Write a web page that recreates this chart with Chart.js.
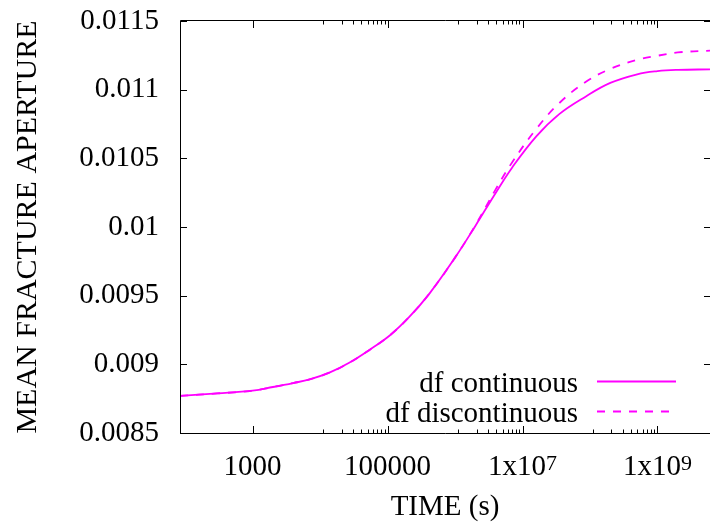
<!DOCTYPE html>
<html>
<head>
<meta charset="utf-8">
<script src="https://cdn.jsdelivr.net/npm/chart.js@4.4.1/dist/chart.umd.min.js"></script>
<style>
  html, body { margin: 0; padding: 0; background: #fff; }
</style>
</head>
<body>
<canvas id="chart" width="710" height="526"></canvas>
<script>
// time in seconds (log axis)
const timeS = [84, 300, 1000, 2000, 4000, 7000, 1.4e4, 2.7e4, 5.4e4, 1.1e5, 2.1e5, 4.2e5, 1e6, 2e6, 4e6, 7e6,
  1.6e7, 3.5e7, 8.7e7, 2e8, 5e8, 1e9, 2e9, 6e9];
const dfContinuous = [0.00877, 0.008788, 0.008808, 0.008835, 0.008864, 0.00889, 0.008941, 0.009011, 0.009105, 0.009214,
  0.009345, 0.009517, 0.009777, 0.010008, 0.010248, 0.010432, 0.01066, 0.010822, 0.010951, 0.011049, 0.011112,
  0.011135, 0.011144, 0.011148];
const dfDiscontinuous = [0.00877, 0.008788, 0.008808, 0.008835, 0.008864, 0.00889, 0.008941, 0.009011, 0.009105, 0.009214,
  0.009345, 0.009517, 0.009777, 0.010012, 0.010274, 0.01047, 0.010714, 0.010902, 0.011057, 0.011151, 0.011217,
  0.011247, 0.011271, 0.011284];

const xMajorTicks = [1e3, 1e5, 1e7, 1e9];
const xTickLabels = [['1000', ''], ['100000', ''], ['1x10', '7'], ['1x10', '9']];
const yTicks = [0.0085, 0.009, 0.0095, 0.01, 0.0105, 0.011, 0.0115];
const yTickLabels = ['0.0085', '0.009', '0.0095', '0.01', '0.0105', '0.011', '0.0115'];

const FONT = '"Liberation Serif", "Times New Roman", serif';
const MAGENTA = '#ff00ff';

Chart.defaults.font.family = FONT;
Chart.defaults.color = '#000';

// gnuplot-like frame: border, inward ticks, x labels with superscripts, legend
const gnuplotFrame = {
  id: 'gnuplotFrame',
  afterDatasetsDraw(chart) {
    const { ctx, chartArea: a, scales: { x, y } } = chart;
    ctx.save();
    ctx.strokeStyle = '#000';
    ctx.lineWidth = 1;

    // border (right edge falls outside the picture)
    ctx.beginPath();
    ctx.moveTo(a.right, a.top - 0.5);
    ctx.lineTo(a.left + 0.5, a.top - 0.5);
    ctx.lineTo(a.left + 0.5, a.bottom + 0.5);
    ctx.lineTo(a.right, a.bottom + 0.5);
    ctx.stroke();

    // y ticks, both sides
    ctx.beginPath();
    yTicks.forEach(v => {
      const py = Math.round(y.getPixelForValue(v)) + 0.5;
      ctx.moveTo(a.left, py); ctx.lineTo(a.left + 7, py);
      ctx.moveTo(a.right - 6, py); ctx.lineTo(a.right, py);
    });
    ctx.stroke();

    // x ticks: majors + minors between majors
    ctx.beginPath();
    xMajorTicks.forEach((v, i) => {
      const px = Math.round(x.getPixelForValue(v)) + 0.5;
      ctx.moveTo(px, a.bottom); ctx.lineTo(px, a.bottom - 7);
      ctx.moveTo(px, a.top); ctx.lineTo(px, a.top + 7);
      const next = xMajorTicks[i + 1];
      if (next) {
        for (let k = 1; k < 10; k++) {
          const m = v + k * (next - v) / 10;
          const mx = Math.round(x.getPixelForValue(m)) + 0.5;
          ctx.moveTo(mx, a.bottom); ctx.lineTo(mx, a.bottom - 3.5);
          ctx.moveTo(mx, a.top); ctx.lineTo(mx, a.top + 3.5);
        }
      }
    });
    ctx.stroke();

    // x tick labels
    ctx.fillStyle = '#000';
    ctx.textBaseline = 'alphabetic';
    ctx.textAlign = 'left';
    xTickLabels.forEach(([base, sup], i) => {
      const px = x.getPixelForValue(xMajorTicks[i]);
      ctx.font = '29px ' + FONT;
      const wb = ctx.measureText(base).width;
      ctx.font = '22px ' + FONT;
      const ws = sup ? ctx.measureText(sup).width : 0;
      const x0 = px - (wb + ws) / 2;
      ctx.font = '29px ' + FONT;
      ctx.fillText(base, x0, a.bottom + 42);
      if (sup) {
        ctx.font = '22px ' + FONT;
        ctx.fillText(sup, x0 + wb, a.bottom + 37);
      }
    });

    // legend, gnuplot style
    const rows = [a.bottom - 51.5, a.bottom - 21.5];
    ctx.font = '29px ' + FONT;
    ctx.textAlign = 'right';
    chart.data.datasets.forEach((ds, i) => {
      const ry = rows[i];
      ctx.fillStyle = '#000';
      ctx.fillText(ds.label, a.right - 132, ry + 10);
      ctx.strokeStyle = ds.borderColor;
      ctx.lineWidth = ds.borderWidth;
      ctx.setLineDash(ds.borderDash || []);
      ctx.beginPath();
      ctx.moveTo(a.right - 113, ry);
      ctx.lineTo(a.right - 34, ry);
      ctx.stroke();
      ctx.setLineDash([]);
    });
    ctx.restore();
  }
};

new Chart(document.getElementById('chart'), {
  type: 'line',
  data: {
    datasets: [{
      label: 'df continuous',
      data: timeS.map((t, i) => ({ x: t, y: dfContinuous[i] })),
      borderColor: MAGENTA,
      borderWidth: 1.8,
      pointRadius: 0,
      tension: 0.4,
      fill: false
    }, {
      label: 'df discontinuous',
      data: timeS.map((t, i) => ({ x: t, y: dfDiscontinuous[i] })),
      borderColor: MAGENTA,
      borderWidth: 1.8,
      borderDash: [8, 8],
      pointRadius: 0,
      tension: 0.4,
      fill: false
    }]
  },
  options: {
    responsive: false,
    animation: false,
    devicePixelRatio: 1,
    layout: { padding: { top: 21, right: 0, left: 0, bottom: 0 } },
    plugins: {
      legend: { display: false },
      tooltip: { enabled: false }
    },
    scales: {
      x: {
        type: 'logarithmic',
        min: 84,
        max: 6e9,
        grid: { display: false, drawTicks: false },
        border: { display: false },
        ticks: { display: false },
        title: {
          display: true,
          text: 'TIME (s)',
          font: { size: 29 },
          padding: { top: 0, bottom: 1 }
        },
        afterFit(scale) { scale.height = 93; }
      },
      y: {
        min: 0.0085,
        max: 0.0115,
        // tick gap given through tickLength so it does not push the plot top down
        grid: { display: false, drawTicks: true, tickLength: 21 },
        border: { display: false },
        afterBuildTicks(scale) { scale.ticks = yTicks.map(v => ({ value: v })); },
        ticks: {
          font: { size: 29 },
          padding: 0,
          callback: (v, i) => yTickLabels[i]
        },
        title: {
          display: true,
          text: 'MEAN FRACTURE APERTURE',
          font: { size: 30 },
          padding: { top: 10, bottom: 0 }
        },
        afterFit(scale) { scale.width = 180; }
      }
    }
  },
  plugins: [gnuplotFrame]
});
</script>
</body>
</html>
